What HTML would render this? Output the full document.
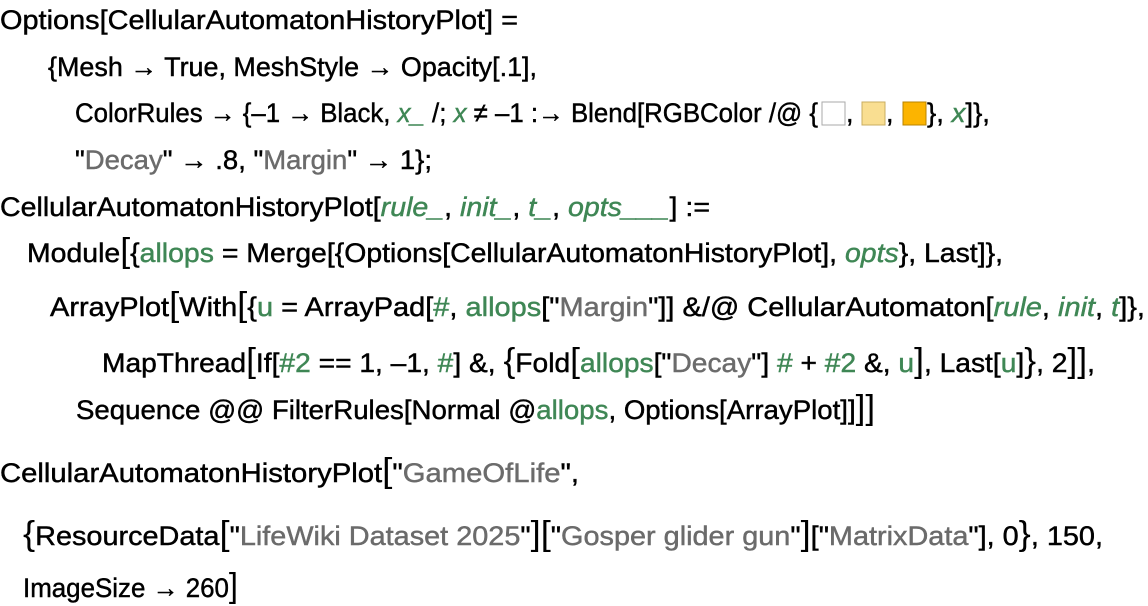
<!DOCTYPE html>
<html><head><meta charset="utf-8"><style>
html,body{margin:0;padding:0;background:#fff;}
svg{display:block;}
text{font-family:"Liberation Sans",sans-serif;font-size:27px;fill:#000;stroke:#000;stroke-width:0.45px;}
.g{fill:#3f8755;stroke:#3f8755;}
.i{font-style:italic;fill:#3f8755;stroke:#3f8755;}
.s{fill:#6b6b6b;stroke:#6b6b6b;}
.b{font-size:34px;stroke-width:0;}
</style></head><body>
<svg width="1148" height="606" xmlns="http://www.w3.org/2000/svg">
<text x="0" y="29" textLength="518" lengthAdjust="spacingAndGlyphs">Options[CellularAutomatonHistoryPlot] =</text>
<text x="48" y="76" textLength="489" lengthAdjust="spacingAndGlyphs">{Mesh → True, MeshStyle → Opacity[.1],</text>
<text x="75" y="122" textLength="743" lengthAdjust="spacingAndGlyphs">ColorRules → {–1 → Black, <tspan class="i">x_</tspan> /; <tspan class="i">x</tspan> ≠ –1 :→ Blend[RGBColor /@ {</text>
<rect x="822" y="102" width="23" height="23" fill="#fff" stroke="#aaa" stroke-width="1"/>
<text x="846" y="122">,</text>
<rect x="862" y="102" width="23" height="23" fill="#f9de91" stroke="#c9ad60" stroke-width="1"/>
<text x="886" y="122">,</text>
<rect x="903" y="102" width="23" height="23" fill="#fcb400" stroke="#b88300" stroke-width="1"/>
<text x="927" y="122" textLength="63" lengthAdjust="spacingAndGlyphs">}, <tspan class="i">x</tspan>]},</text>
<text x="75" y="169" textLength="357" lengthAdjust="spacingAndGlyphs">"<tspan class="s">Decay</tspan>" → .8, "<tspan class="s">Margin</tspan>" → 1};</text>
<text x="0" y="216" textLength="710" lengthAdjust="spacingAndGlyphs">CellularAutomatonHistoryPlot[<tspan class="i">rule_</tspan>, <tspan class="i">init_</tspan>, <tspan class="i">t_</tspan>, <tspan class="i">opts___</tspan>] :=</text>
<text x="27" y="262" textLength="976" lengthAdjust="spacingAndGlyphs">Module<tspan class="b">[</tspan>{<tspan class="g">allops</tspan> = Merge[{Options[CellularAutomatonHistoryPlot], <tspan class="i">opts</tspan>}, Last]},</text>
<text x="50" y="316" textLength="1095" lengthAdjust="spacingAndGlyphs">ArrayPlot<tspan class="b">[</tspan>With<tspan class="b">[</tspan>{<tspan class="g">u</tspan> = ArrayPad[<tspan class="g">#</tspan>, <tspan class="g">allops</tspan>["<tspan class="s">Margin</tspan>"]] &amp;/@ CellularAutomaton[<tspan class="i">rule</tspan>, <tspan class="i">init</tspan>, <tspan class="i">t</tspan>]},</text>
<text x="102" y="372" textLength="993" lengthAdjust="spacingAndGlyphs">MapThread<tspan class="b">[</tspan>If[<tspan class="g">#2</tspan> == 1, –1, <tspan class="g">#</tspan>] &amp;, <tspan class="b">{</tspan>Fold<tspan class="b">[</tspan><tspan class="g">allops</tspan>["<tspan class="s">Decay</tspan>"] <tspan class="g">#</tspan> + <tspan class="g">#2</tspan> &amp;, <tspan class="g">u</tspan><tspan class="b">]</tspan>, Last[<tspan class="g">u</tspan>]<tspan class="b">}</tspan>, 2<tspan class="b">]]</tspan>,</text>
<text x="76" y="419" textLength="799" lengthAdjust="spacingAndGlyphs">Sequence @@ FilterRules[Normal @<tspan class="g">allops</tspan>, Options[ArrayPlot]]<tspan class="b">]]</tspan></text>
<text x="0" y="482" textLength="579" lengthAdjust="spacingAndGlyphs">CellularAutomatonHistoryPlot<tspan class="b">[</tspan>"<tspan class="s">GameOfLife</tspan>",</text>
<text x="23" y="545" textLength="1080" lengthAdjust="spacingAndGlyphs"><tspan class="b">{</tspan>ResourceData<tspan class="b">[</tspan>"<tspan class="s">LifeWiki Dataset 2025</tspan>"<tspan class="b">][</tspan>"<tspan class="s">Gosper glider gun</tspan>"<tspan class="b">]</tspan>["<tspan class="s">MatrixData</tspan>"], 0<tspan class="b">}</tspan>, 150,</text>
<text x="23" y="597" textLength="215" lengthAdjust="spacingAndGlyphs">ImageSize → 260<tspan class="b">]</tspan></text>
</svg>
</body></html>
